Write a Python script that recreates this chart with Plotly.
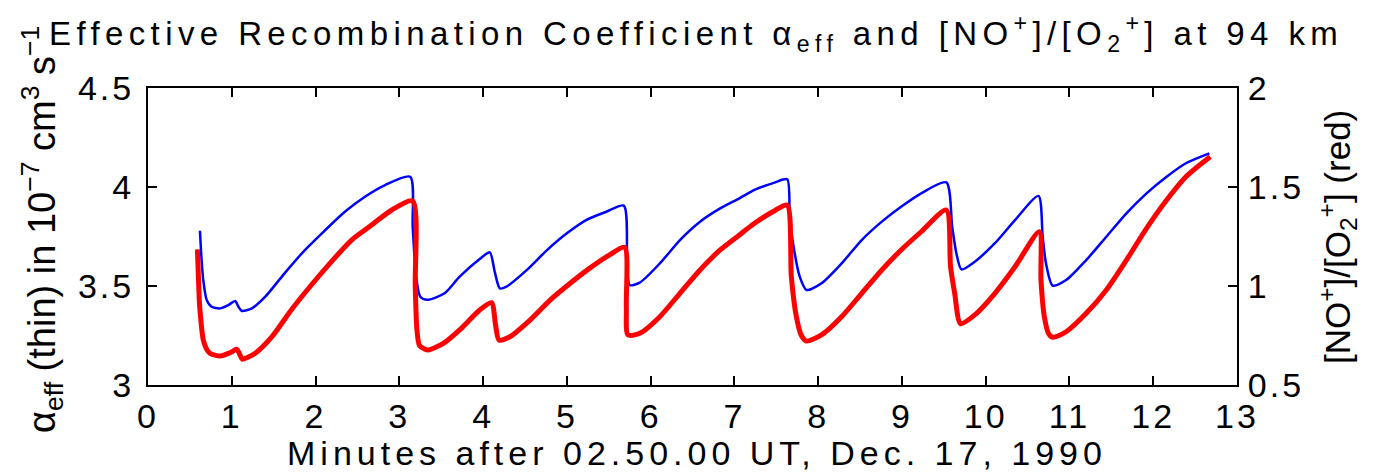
import plotly.graph_objects as go

# Effective recombination coefficient (left axis, 1e-7 cm^3 s^-1)
t_alpha = [0.62, 0.64, 0.66, 0.70, 0.76, 0.86, 0.96, 1.04, 1.08, 1.12, 1.24, 1.40,
           1.63, 1.87, 2.11, 2.35, 2.59, 2.83, 3.13, 3.16, 3.20, 3.25, 3.33, 3.54,
           3.72, 3.96, 4.08, 4.14, 4.20, 4.28, 4.52, 4.76, 5.00, 5.23, 5.47, 5.68,
           5.72, 5.75, 5.87, 6.11, 6.35, 6.59, 6.83, 7.06, 7.24, 7.48, 7.63, 7.66,
           7.70, 7.78, 7.86, 8.04, 8.28, 8.52, 8.76, 8.99, 9.23, 9.53, 9.60, 9.65,
           9.71, 9.87, 10.11, 10.35, 10.63, 10.68, 10.72, 10.80, 10.96, 11.20, 11.44,
           11.68, 11.92, 12.16, 12.39, 12.67]
alpha_eff = [3.779, 3.63, 3.53, 3.43, 3.395, 3.387, 3.404, 3.424, 3.395, 3.374, 3.387, 3.446,
             3.564, 3.68, 3.78, 3.875, 3.951, 4.01, 4.052, 3.80, 3.55, 3.446, 3.43, 3.463,
             3.547, 3.636, 3.67, 3.57, 3.488, 3.497, 3.58, 3.68, 3.766, 3.833, 3.875, 3.906,
             3.65, 3.505, 3.517, 3.614, 3.732, 3.825, 3.892, 3.943, 3.985, 4.022, 4.039, 3.85,
             3.716, 3.547, 3.48, 3.514, 3.614, 3.732, 3.825, 3.90, 3.968, 4.023, 3.80, 3.665,
             3.584, 3.623, 3.716, 3.833, 3.955, 3.75, 3.614, 3.502, 3.53, 3.631, 3.749,
             3.867, 3.968, 4.052, 4.12, 4.17]

# [NO+]/[O2+] ratio (right axis)
t_ratio = [0.59, 0.61, 0.62, 0.66, 0.70, 0.74, 0.86, 0.98, 1.06, 1.10, 1.125, 1.18,
           1.28, 1.48, 1.71, 1.95, 2.19, 2.43, 2.67, 2.91, 3.16, 3.19, 3.21, 3.24,
           3.30, 3.35, 3.54, 3.72, 3.96, 4.10, 4.15, 4.19, 4.32, 4.56, 4.80, 5.04,
           5.27, 5.51, 5.69, 5.71, 5.73, 5.87, 6.11, 6.35, 6.59, 6.83, 7.06, 7.24,
           7.48, 7.63, 7.68, 7.74, 7.80, 7.86, 8.04, 8.28, 8.52, 8.76, 8.99, 9.23,
           9.53, 9.58, 9.63, 9.70, 9.87, 10.11, 10.35, 10.64, 10.66, 10.70, 10.75,
           10.80, 10.96, 11.20, 11.44, 11.68, 11.92, 12.16, 12.39, 12.68]
ratio = [1.185, 0.95, 0.879, 0.727, 0.68, 0.66, 0.646, 0.663, 0.68, 0.65, 0.63, 0.638,
         0.66, 0.744, 0.879, 1.005, 1.123, 1.232, 1.308, 1.384, 1.429, 1.0, 0.78, 0.70,
         0.682, 0.677, 0.714, 0.778, 0.879, 0.916, 0.80, 0.727, 0.744, 0.828, 0.929, 1.014,
         1.089, 1.157, 1.195, 0.90, 0.753, 0.761, 0.845, 0.963, 1.081, 1.182, 1.258, 1.317,
         1.38, 1.409, 1.047, 0.845, 0.75, 0.722, 0.753, 0.845, 0.963, 1.081, 1.182, 1.274,
         1.384, 1.10, 0.963, 0.81, 0.854, 0.963, 1.097, 1.274, 1.03, 0.845, 0.76,
         0.741, 0.769, 0.862, 0.98, 1.131, 1.291, 1.434, 1.552, 1.653]

x_ticks = list(range(0, 14))
alpha_ticks = [3, 3.5, 4, 4.5]
ratio_ticks = [0.5, 1, 1.5, 2]

FONT = "Liberation Sans, Arial, Helvetica, sans-serif"
TICK_SIZE = 34


def wide(text, spacing, size):
    return f'<span style="letter-spacing:{spacing}px;font-size:{size}px">{text}</span>'


def label(v):
    return f"{v:g}"


fig = go.Figure()
fig.add_trace(go.Scatter(x=t_alpha, y=alpha_eff, mode="lines",
                         line=dict(color="#0000ff", width=2.5, shape="spline", smoothing=0.7),
                         yaxis="y"))
fig.add_trace(go.Scatter(x=t_ratio, y=ratio, mode="lines",
                         line=dict(color="#ff0000", width=5, shape="spline", smoothing=0.7),
                         yaxis="y2"))

W, H = 1373, 472
L, R, T, B = 148, 136, 88, 87
pw, ph = W - L - R, H - T - B


def px(x):
    return (x - L) / pw


def py(y):
    return (H - B - y) / ph


axis_common = dict(showgrid=False, zeroline=False, showline=True, linecolor="black",
                   linewidth=2, ticks="inside", ticklen=9, tickwidth=1.5,
                   tickcolor="black", tickfont=dict(family=FONT, size=TICK_SIZE, color="black"))

fig.update_layout(
    width=W, height=H,
    margin=dict(l=L, r=R, t=T, b=B),
    paper_bgcolor="white", plot_bgcolor="white",
    showlegend=False,
    xaxis=dict(range=[0, 13], tickvals=x_ticks,
               ticktext=[wide(label(v), 3, TICK_SIZE) for v in x_ticks],
               mirror="ticks", ticklabelstandoff=0, **axis_common),
    yaxis=dict(range=[3, 4.5], tickvals=alpha_ticks,
               ticktext=[wide(label(v), 3, TICK_SIZE) for v in alpha_ticks],
               mirror=True, ticklabelstandoff=5, **axis_common),
    yaxis2=dict(range=[0.5, 2], tickvals=ratio_ticks,
                ticktext=[wide(label(v), 3, TICK_SIZE) for v in ratio_ticks],
                overlaying="y", side="right", ticklabelstandoff=2, **axis_common),
    annotations=[
        dict(text=wide("Effective Recombination Coefficient α<sub>eff</sub> and "
                       "[NO<sup>+</sup>]/[O<sub>2</sub><sup>+</sup>] at 94 km", 5.4, 33),
             xref="paper", yref="paper", x=px(696), y=py(34),
             xanchor="center", yanchor="middle", showarrow=False,
             font=dict(family=FONT, size=33, color="black")),
        dict(text=wide("Minutes after 02.50.00 UT, Dec. 17, 1990", 5, 34),
             xref="paper", yref="paper", x=px(697), y=py(453),
             xanchor="center", yanchor="middle", showarrow=False,
             font=dict(family=FONT, size=34, color="black")),
        dict(text="α<sub>eff</sub> (thin) in 10<sup>−7</sup> cm<sup>3</sup> s<sup>−1</sup>",
             xref="paper", yref="paper", x=px(42), y=py(230), textangle=-90,
             xanchor="center", yanchor="middle", showarrow=False,
             font=dict(family=FONT, size=38, color="black")),
        dict(text="[NO<sup>+</sup>]/[O<sub>2</sub><sup>+</sup>] (red)",
             xref="paper", yref="paper", x=px(1337), y=py(237), textangle=-90,
             xanchor="center", yanchor="middle", showarrow=False,
             font=dict(family=FONT, size=35, color="black")),
    ],
)

fig.write_html("out.html")
